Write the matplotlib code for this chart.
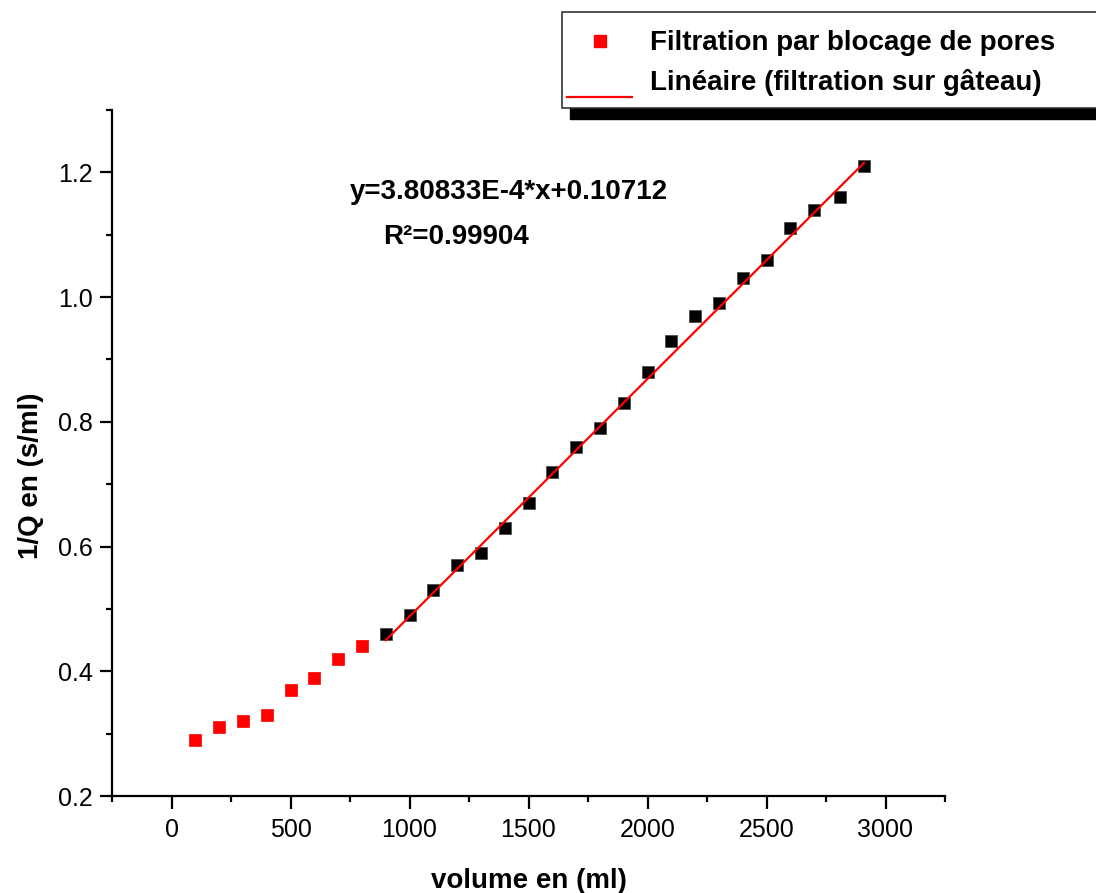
import matplotlib
matplotlib.use("Agg")
import matplotlib.pyplot as plt
from matplotlib.lines import Line2D
from matplotlib.patches import Rectangle
import numpy as np

plt.rcParams['font.family'] = ['Liberation Sans', 'DejaVu Sans']

# pore blocking points (red)
vol_pores = [100, 200, 300, 400, 500, 600, 700, 800]
invq_pores = [0.29, 0.31, 0.32, 0.33, 0.37, 0.39, 0.42, 0.44]

# cake filtration points (black)
vol_cake = [900, 1000, 1100, 1200, 1300, 1400, 1500, 1600, 1700, 1800, 1900,
            2000, 2100, 2200, 2300, 2400, 2500, 2600, 2700, 2810, 2910]
invq_cake = [0.46, 0.49, 0.53, 0.57, 0.59, 0.63, 0.67, 0.72, 0.76, 0.79, 0.83,
             0.88, 0.93, 0.97, 0.99, 1.03, 1.06, 1.11, 1.14, 1.16, 1.21]

slope = 3.80833e-4
intercept = 0.10712
fit_x = [900, 2910]

W, H = 1096, 893
fig = plt.figure(figsize=(W / 100, H / 100), dpi=100)
ax = fig.add_axes([112 / W, 1 - 796 / H, (945 - 112) / W, (796 - 110) / H])


def px(x, y):
    # pixel position -> figure fraction
    return x / W, 1 - y / H


ax.plot(vol_pores, invq_pores, 's', color='#ff0000', ms=9.3, mec='#ff0000', mew=0.5)
ax.plot(vol_cake, invq_cake, 's', color='black', ms=9.3, mec='#444444', mew=0.5)
fx = np.array(fit_x)
ax.plot(fx, slope * fx + intercept, '-', color='#ff0000', lw=1.6)

ax.set_xlim(-250, 3250)
ax.set_ylim(0.2, 1.3)
ax.set_xticks([0, 500, 1000, 1500, 2000, 2500, 3000])
ax.set_xticks(np.arange(-250, 3251, 500), minor=True)
ax.set_yticks([0.2, 0.4, 0.6, 0.8, 1.0, 1.2])
ax.set_yticks([0.3, 0.5, 0.7, 0.9, 1.1, 1.3], minor=True)
ax.set_yticklabels(['0.2', '0.4', '0.6', '0.8', '1.0', '1.2'])

for s in ['top', 'right']:
    ax.spines[s].set_visible(False)
for s in ['left', 'bottom']:
    ax.spines[s].set_linewidth(1.6)
ax.tick_params(which='major', direction='out', length=9, width=1.6, labelsize=18, pad=5)
ax.tick_params(axis='x', which='major', pad=7)
ax.tick_params(which='minor', direction='out', length=4.5, width=1.6)

ax.set_xlabel('volume en (ml)', fontsize=20, fontweight='bold', va='center')
ax.xaxis.set_label_coords(0.5, (796 - 881) / 686)
ax.set_ylabel('1/Q en (s/ml)', fontsize=20, fontweight='bold', va='center')
ax.yaxis.set_label_coords((31 - 112) / 833, (796 - 476) / 686)

fig.text(*px(350, 192), 'y=3.80833E-4*x+0.10712', fontsize=20, fontweight='bold',
         va='center', ha='left')
fig.text(*px(383, 237), 'R²=0.99904', fontsize=20, fontweight='bold',
         va='center', ha='left')

# legend box with black shadow
x0, y0 = px(562, 108)
shadow = Rectangle(px(570, 119), 1, 96 / H, transform=fig.transFigure,
                   facecolor='black', edgecolor='black', zorder=5)
box = Rectangle((x0, y0), 1, 96 / H, transform=fig.transFigure,
                facecolor='white', edgecolor='#333333', lw=1.2, zorder=6)
fig.patches.extend([shadow, box])
fig.lines.append(Line2D([px(600, 41)[0]], [px(600, 41)[1]], marker='s', color='#ff0000',
                        ms=9, ls='none', transform=fig.transFigure, zorder=7))
fig.lines.append(Line2D([px(567, 97)[0], px(632, 97)[0]], [px(567, 97)[1], px(632, 97)[1]],
                        color='#ff0000', lw=1.6, transform=fig.transFigure, zorder=7))
fig.text(*px(650, 43), 'Filtration par blocage de pores', fontsize=20,
         fontweight='bold', va='center', ha='left', zorder=8)
fig.text(*px(650, 82), 'Linéaire (filtration sur gâteau)', fontsize=20,
         fontweight='bold', va='center', ha='left', zorder=8)

fig.savefig('out.png', dpi=100)
